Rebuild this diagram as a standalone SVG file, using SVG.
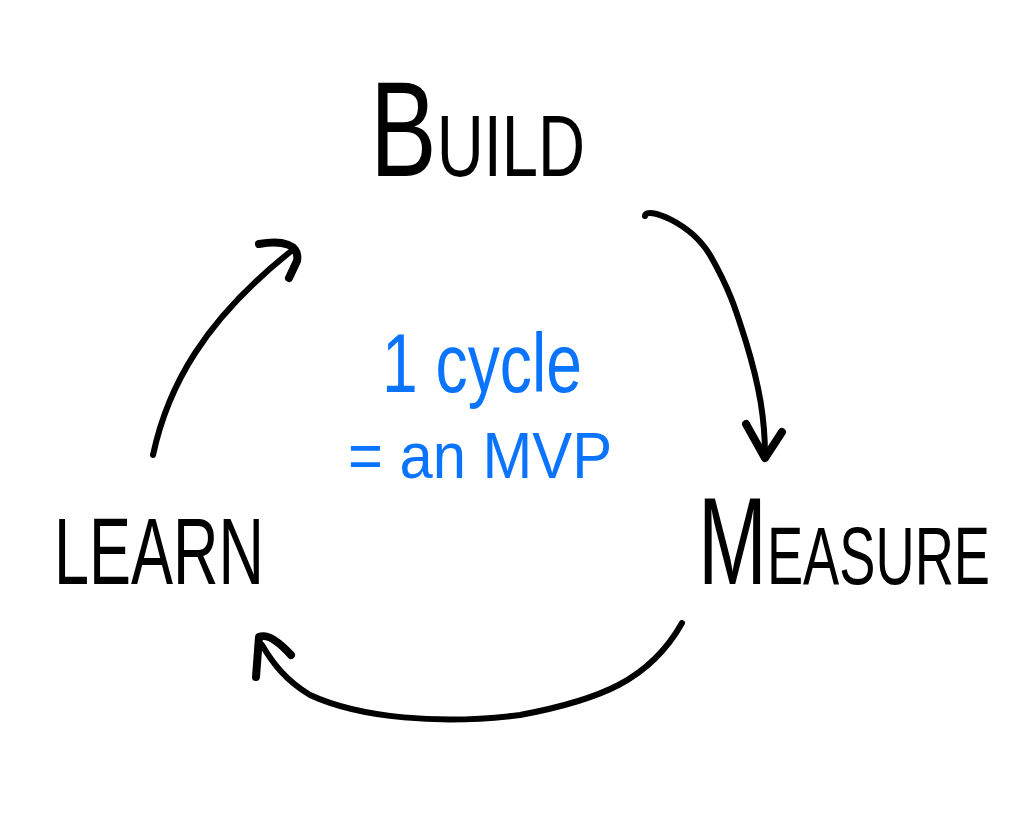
<svg xmlns="http://www.w3.org/2000/svg" width="1035" height="815" viewBox="0 0 1035 815">
<style>
.lbl{font-family:"Liberation Sans",Arial,sans-serif;fill:#000;}
.note{font-family:"Liberation Sans",Arial,sans-serif;fill:#0a74ff;}
.arrow{fill:none;stroke:#000;stroke-width:6;stroke-linecap:round;stroke-linejoin:round;}
.head{fill:none;stroke:#000;stroke-width:8;stroke-linecap:round;stroke-linejoin:round;}
</style>
<rect width="1035" height="815" fill="#fff"/>
<g id="build">
<text class="lbl" x="370" y="176" textLength="215" lengthAdjust="spacingAndGlyphs"><tspan font-size="135">B</tspan><tspan font-size="88">UILD</tspan></text>
</g>
<g id="measure">
<text class="lbl" x="698" y="584" textLength="292" lengthAdjust="spacingAndGlyphs"><tspan font-size="125">M</tspan><tspan font-size="82">EASURE</tspan></text>
</g>
<g id="learn">
<text class="lbl" x="54" y="584" font-size="94" textLength="210" lengthAdjust="spacingAndGlyphs">LEARN</text>
</g>
<g id="note">
<text class="note" x="382" y="392" font-size="84" textLength="200" lengthAdjust="spacingAndGlyphs">1 cycle</text>
<text class="note" x="348" y="478" font-size="64" textLength="264" lengthAdjust="spacingAndGlyphs">= an MVP</text>
</g>
<g id="connectors">
<path class="arrow" d="M645,216 C646,206 690,222 710,255 C730,290 736,310 746,342 C760,388 765,420 765,456"/>
<path class="head" d="M746,424 L765,458 L782,432"/>
<path class="arrow" d="M153,455 C168,385 205,320 290,252"/>
<path class="head" d="M259,244 C282,240 300,244 297,261 L289,278"/>
<path class="arrow" d="M682,623 C650,680 600,700 520,715 C440,725 360,718 310,695 C285,680 272,662 262,645"/>
<path class="head" d="M256,677 L259,637 Q270,632 291,655"/>
</g>
</svg>
